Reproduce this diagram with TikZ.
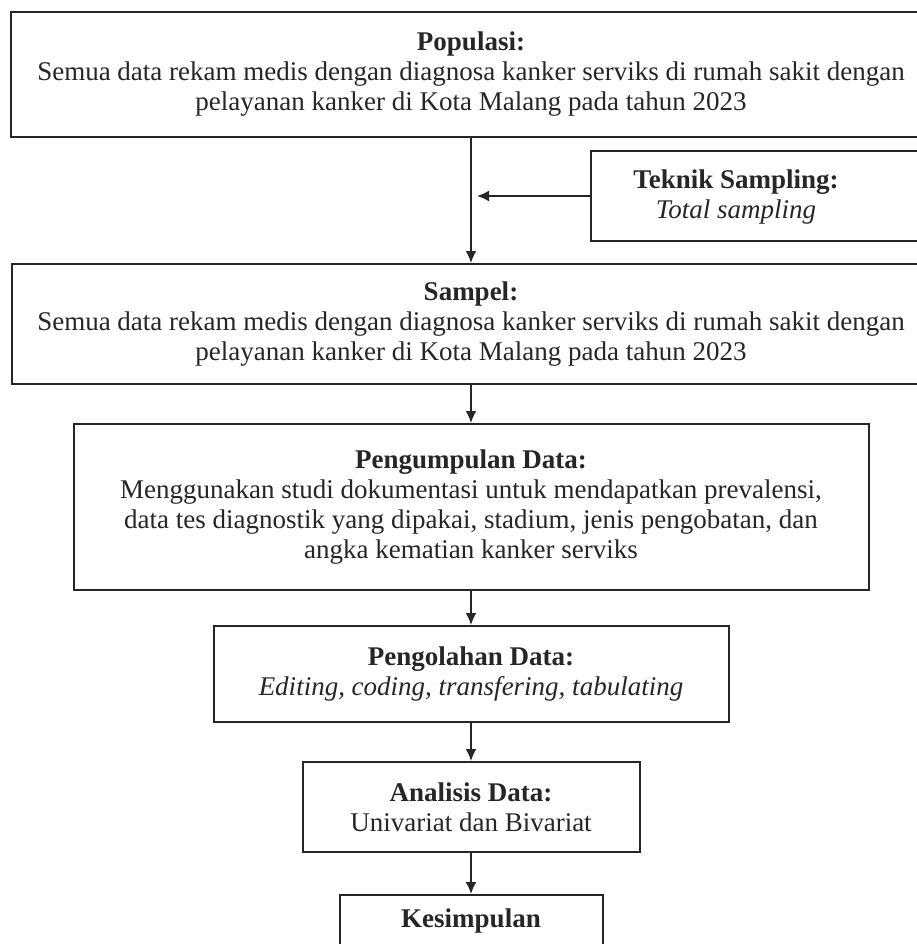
\documentclass[tikz,border=0pt]{standalone}
\usepackage{fontspec}
\setmainfont{Liberation Serif}
\usetikzlibrary{arrows.meta}

\begin{document}
\begin{tikzpicture}[x=0.5pt,y=0.5pt,
    box/.style={draw=black!85,line width=1pt,align=center,inner sep=0pt,text=black!85,font=\fontsize{13.5}{15}\selectfont},
    txt/.style={align=center,text=black!85,font=\fontsize{13.5}{15}\selectfont},
    arr/.style={draw=black!85,line width=0.9pt,-{Latex[length=6pt,width=5.5pt]}}]
      \clip (0,0) rectangle (917,-944);
      \fill [white] (0,0) rectangle (917,-944);

      \node [box,minimum width=460pt,minimum height=62.5pt] (pop) at (471,-74.5)
            {\textbf{Populasi:}\\Semua data rekam medis dengan diagnosa kanker serviks di rumah sakit dengan\\pelayanan kanker di Kota Malang pada tahun 2023};

      \node [box,minimum width=172pt,minimum height=45pt] (tek) at (763,-196) {};
      \node [txt] (tektext) at (736,-197) {\textbf{Teknik Sampling:}\\\textit{Total sampling}};

      \node [box,minimum width=459pt,minimum height=60pt] (smp) at (471,-324)
            {\textbf{Sampel:}\\Semua data rekam medis dengan diagnosa kanker serviks di rumah sakit dengan\\pelayanan kanker di Kota Malang pada tahun 2023};

      \node [box,minimum width=397.5pt,minimum height=83pt] (kum) at (471,-507)
            {\textbf{Pengumpulan Data:}\\Menggunakan studi dokumentasi untuk mendapatkan prevalensi,\\data tes diagnostik yang dipakai, stadium, jenis pengobatan, dan\\angka kematian kanker serviks};

      \node [box,minimum width=257.5pt,minimum height=48pt] (olah) at (471,-674)
            {\textbf{Pengolahan Data:}\\\textit{Editing, coding, transfering, tabulating}};

      \node [box,minimum width=168.5pt,minimum height=45pt] (anl) at (471,-807)
            {\textbf{Analisis Data:}\\Univariat dan Bivariat};

      \node [box,minimum width=131.5pt,minimum height=26pt] (kes) at (471,-921) {\textbf{Kesimpulan}};

      \coordinate (tip) at (477,-196);

      \draw [arr] (pop) -- (smp);
      \draw [arr] (tek.west) -- (tip);
      \draw [arr] (smp) -- (kum);
      \draw [arr] (kum) -- (olah);
      \draw [arr] (olah) -- (anl);
      \draw [arr] (anl) -- (kes);
    \end{tikzpicture}
\end{document}
